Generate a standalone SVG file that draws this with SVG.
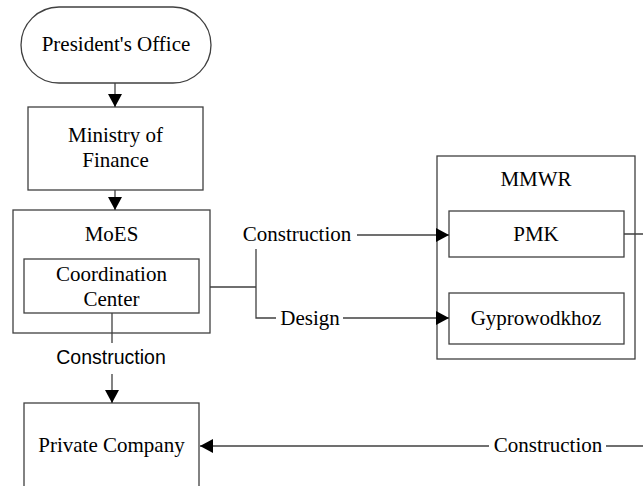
<svg xmlns="http://www.w3.org/2000/svg" width="643" height="486" viewBox="0 0 643 486">
<defs>
<style>
.box{fill:#fff;stroke:#404040;stroke-width:1.3}
.t{font-family:"Liberation Serif","Times New Roman",serif;font-size:21px;fill:#000;text-anchor:middle}
.s{font-family:"Liberation Sans",Arial,sans-serif;font-size:19.5px;fill:#000;text-anchor:middle}
.c{fill:none;stroke:#404040;stroke-width:1.3}
</style>
<marker id="ah" viewBox="0 0 13 14" refX="13" refY="7" markerWidth="13" markerHeight="14" markerUnits="userSpaceOnUse" orient="auto">
<path d="M0,0 L13,7 L0,14 Z" fill="#000"/>
</marker>
</defs>
<rect width="643" height="486" fill="#fff"/>
<g id="presidents-office">
<rect class="box" x="21" y="7" width="190" height="76" rx="38" ry="38"/>
<text class="t" x="116" y="51">President's Office</text>
</g>
<g id="ministry-of-finance">
<rect class="box" x="28" y="107" width="175" height="83"/>
<text class="t" x="115.5" y="142">Ministry of</text>
<text class="t" x="115.5" y="167">Finance</text>
</g>
<g id="moes">
<rect class="box" x="13" y="210" width="197" height="123"/>
<text class="t" x="111.5" y="241">MoES</text>
</g>
<g id="coordination-center">
<rect class="box" x="24" y="259" width="175" height="54"/>
<text class="t" x="111.5" y="281">Coordination</text>
<text class="t" x="111.5" y="306">Center</text>
</g>
<g id="mmwr">
<rect class="box" x="437" y="156" width="198" height="203"/>
<text class="t" x="536" y="186">MMWR</text>
</g>
<g id="pmk">
<rect class="box" x="449" y="211" width="175" height="46"/>
<text class="t" x="536" y="241">PMK</text>
</g>
<g id="gyprowodkhoz">
<rect class="box" x="449" y="293" width="175" height="51"/>
<text class="t" x="536" y="325">Gyprowodkhoz</text>
</g>
<g id="private-company">
<rect class="box" x="24" y="403" width="175" height="100"/>
<text class="t" x="111.5" y="452">Private Company</text>
</g>
<g id="connectors">
<path class="c" d="M115,83 V107" marker-end="url(#ah)"/>
<path class="c" d="M115,190 V210" marker-end="url(#ah)"/>
<path class="c" d="M112,313 V343"/>
<path class="c" d="M112,374 V403" marker-end="url(#ah)"/>
<path class="c" d="M210,287 H256 M256,249 V318 H276"/>
<path class="c" d="M357,235 H449" marker-end="url(#ah)"/>
<path class="c" d="M343,318 H449" marker-end="url(#ah)"/>
<path class="c" d="M624,234 H660 V446 H606"/>
<path class="c" d="M489,446 H200" marker-end="url(#ah)"/>
<text class="s" x="111" y="364">Construction</text>
<text class="t" x="297" y="241">Construction</text>
<text class="t" x="310" y="325">Design</text>
<text class="t" x="548" y="452">Construction</text>
</g>
</svg>
